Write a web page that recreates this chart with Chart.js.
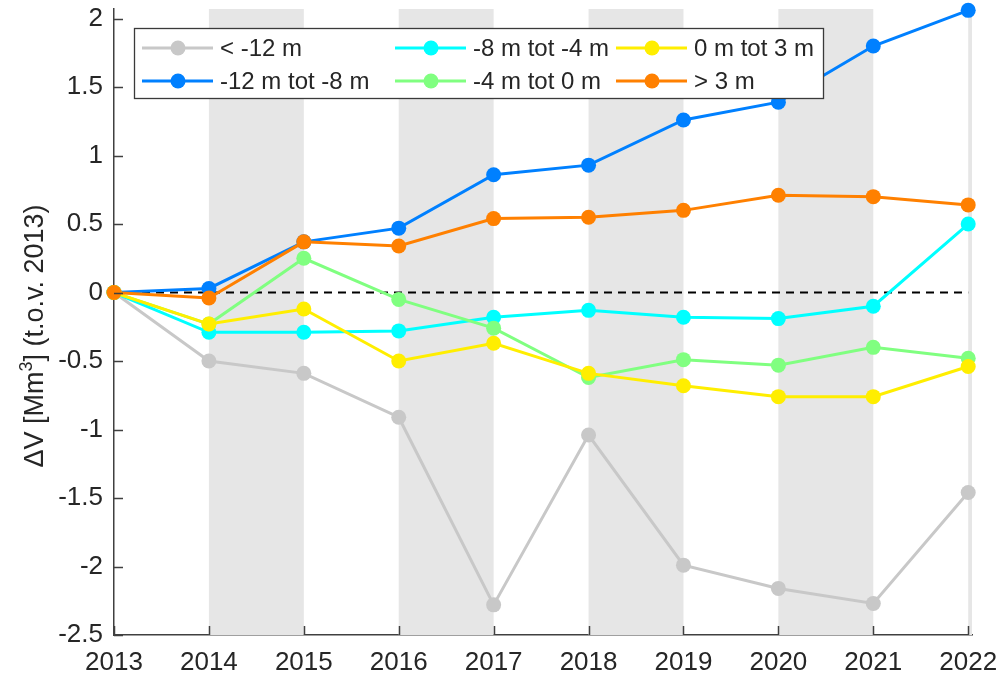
<!DOCTYPE html>
<html>
<head>
<meta charset="utf-8">
<script src="https://cdn.jsdelivr.net/npm/chart.js@4.4.1/dist/chart.umd.min.js"></script>
<style>
  html, body { margin: 0; padding: 0; background: #fff; }
  #wrap { width: 1007px; height: 677px; }
</style>
</head>
<body>
<div id="wrap"><canvas id="chart" width="1007" height="677"></canvas></div>
<script>
// data (volume change relative to 2013, Mm3)
const years = [2013, 2014, 2015, 2016, 2017, 2018, 2019, 2020, 2021, 2022];
const seriesNames = ['< -12 m', '-12 m tot -8 m', '-8 m tot -4 m', '-4 m tot 0 m', '0 m tot 3 m', '> 3 m'];
const below12 = [0, -0.50, -0.59, -0.91, -2.28, -1.04, -1.99, -2.16, -2.27, -1.46];
const from12to8 = [0, 0.03, 0.37, 0.47, 0.86, 0.93, 1.26, 1.39, 1.80, 2.06];
const from8to4 = [0, -0.29, -0.29, -0.28, -0.18, -0.13, -0.18, -0.19, -0.10, 0.50];
const from4to0 = [0, -0.23, 0.25, -0.05, -0.26, -0.62, -0.49, -0.53, -0.40, -0.48];
const from0to3 = [0, -0.23, -0.12, -0.50, -0.37, -0.59, -0.68, -0.76, -0.76, -0.54];
const above3 = [0, -0.04, 0.37, 0.34, 0.54, 0.55, 0.60, 0.71, 0.70, 0.64];
const yTicks = [-2.5, -2, -1.5, -1, -0.5, 0, 0.5, 1, 1.5, 2];
const xTicks = years;
const bandStarts = [2014, 2016, 2018, 2020, 2022];
// y axis title: text, superscript, text
const yTitleParts = ['ΔV [Mm', '3', '] (t.o.v. 2013)'];

const colors = ['#c8c8c8', '#0080ff', '#00ffff', '#80ff80', '#ffee00', '#ff8000'];
const allSeries = [below12, from12to8, from8to4, from4to0, from0to3, above3];

const FONT = '"Liberation Sans", Arial, Helvetica, sans-serif';
const AXIS = '#404040';
const TEXT = '#262626';

const datasets = allSeries.map((vals, i) => ({
  label: seriesNames[i],
  data: vals.map((v, j) => ({ x: years[j], y: v })),
  borderColor: colors[i],
  backgroundColor: colors[i],
  borderWidth: 3,
  pointRadius: 7.5,
  pointHoverRadius: 7.5,
  pointBorderWidth: 0,
  tension: 0,
  clip: false,
  order: allSeries.length - i   // later series drawn on top
}));

// grey year bands + dashed zero line behind the lines
const backdrop = {
  id: 'backdrop',
  beforeDatasetsDraw(chart) {
    const { ctx, chartArea, scales: { x, y } } = chart;
    ctx.save();
    ctx.beginPath();
    ctx.rect(chartArea.left, chartArea.top, chartArea.right - chartArea.left, chartArea.bottom - chartArea.top);
    ctx.clip();
    ctx.fillStyle = '#e6e6e6';
    bandStarts.forEach(b => {
      const x0 = x.getPixelForValue(b);
      const x1 = x.getPixelForValue(b + 1);
      ctx.fillRect(x0, chartArea.top, x1 - x0, chartArea.bottom - chartArea.top);
    });
    ctx.restore();

    ctx.save();
    ctx.strokeStyle = '#000';
    ctx.lineWidth = 2;
    ctx.setLineDash([8, 6]);
    ctx.beginPath();
    const y0 = y.getPixelForValue(0);
    ctx.moveTo(x.getPixelForValue(2013), y0);
    ctx.lineTo(x.getPixelForValue(2022), y0);
    ctx.stroke();
    ctx.restore();
  }
};

// inward tick marks like the original figure
const innerTicks = {
  id: 'innerTicks',
  afterDatasetsDraw(chart) {
    const { ctx, chartArea, scales: { x, y } } = chart;
    ctx.save();
    ctx.strokeStyle = AXIS;
    ctx.lineWidth = 1.5;
    ctx.beginPath();
    yTicks.forEach(v => {
      const py = Math.round(y.getPixelForValue(v)) + 0.5;
      ctx.moveTo(chartArea.left, py);
      ctx.lineTo(chartArea.left + 9, py);
    });
    xTicks.forEach(v => {
      const px = Math.round(x.getPixelForValue(v)) + 0.5;
      ctx.moveTo(px, chartArea.bottom);
      ctx.lineTo(px, chartArea.bottom - 9);
    });
    ctx.stroke();
    ctx.restore();
  }
};

// rotated y title with a real superscript
const yTitle = {
  id: 'yTitle',
  afterDraw(chart) {
    const { ctx, chartArea } = chart;
    const big = '27px ' + FONT;
    const small = '18px ' + FONT;
    ctx.save();
    ctx.fillStyle = TEXT;
    ctx.textBaseline = 'alphabetic';
    ctx.textAlign = 'left';
    const widths = yTitleParts.map((t, i) => {
      ctx.font = i === 1 ? small : big;
      return ctx.measureText(t).width;
    });
    const total = widths.reduce((a, b) => a + b, 0);
    const cy = (chartArea.top + chartArea.bottom) / 2 + 14;
    ctx.translate(43, cy);
    ctx.rotate(-Math.PI / 2);
    let pos = -total / 2;
    yTitleParts.forEach((t, i) => {
      ctx.font = i === 1 ? small : big;
      ctx.fillText(t, pos, i === 1 ? -11 : 0);
      pos += widths[i];
    });
    ctx.restore();
  }
};

// boxed legend, three columns filled top to bottom
const boxLegend = {
  id: 'boxLegend',
  afterDraw(chart) {
    const ctx = chart.ctx;
    const box = { left: 134, top: 28, width: 689, height: 70 };
    const colX = [142, 395, 616];
    const rowY = [48, 81];
    ctx.save();
    ctx.fillStyle = '#fff';
    ctx.fillRect(box.left, box.top, box.width, box.height);
    ctx.strokeStyle = '#3a3a3a';
    ctx.lineWidth = 1.3;
    ctx.strokeRect(box.left + 0.5, box.top + 0.5, box.width, box.height);
    ctx.font = '24px ' + FONT;
    ctx.textBaseline = 'middle';
    ctx.textAlign = 'left';
    seriesNames.forEach((name, i) => {
      const cx = colX[Math.floor(i / 2)];
      const cy = rowY[i % 2];
      ctx.strokeStyle = colors[i];
      ctx.lineWidth = 3;
      ctx.beginPath();
      ctx.moveTo(cx, cy);
      ctx.lineTo(cx + 71, cy);
      ctx.stroke();
      ctx.fillStyle = colors[i];
      ctx.beginPath();
      ctx.arc(cx + 36, cy, 7.5, 0, Math.PI * 2);
      ctx.fill();
      ctx.fillStyle = TEXT;
      ctx.fillText(name, cx + 78, cy + 1);
    });
    ctx.restore();
  }
};

new Chart(document.getElementById('chart'), {
  type: 'line',
  data: { datasets },
  options: {
    responsive: false,
    animation: false,
    events: [],
    layout: { padding: { top: 9, right: 35, left: 0, bottom: 0 } },
    plugins: {
      legend: { display: false },
      tooltip: { enabled: false }
    },
    scales: {
      x: {
        type: 'linear',
        min: 2013,
        max: 2022.04,
        afterBuildTicks: s => { s.ticks = xTicks.map(v => ({ value: v })); },
        afterFit: s => { s.height = 42; s.paddingLeft = 0; s.paddingRight = 0; },
        grid: { display: false, drawTicks: false },
        border: { display: true, color: AXIS, width: 1.5 },
        ticks: {
          padding: 12,
          maxRotation: 0,
          autoSkip: false,
          color: TEXT,
          font: { family: FONT, size: 26 },
          callback: v => String(v)
        }
      },
      y: {
        type: 'linear',
        min: -2.5,
        max: 2.07,
        afterBuildTicks: s => { s.ticks = yTicks.map(v => ({ value: v })); },
        afterFit: s => { s.width = 114; s.paddingTop = 0; s.paddingBottom = 0; },
        grid: { display: false, drawTicks: false },
        border: { display: true, color: AXIS, width: 1.5 },
        title: { display: false },
        ticks: {
          padding: 11,
          autoSkip: false,
          color: TEXT,
          font: { family: FONT, size: 26 },
          callback: v => String(v)
        }
      }
    }
  },
  plugins: [backdrop, innerTicks, yTitle, boxLegend]
});
</script>
</body>
</html>
